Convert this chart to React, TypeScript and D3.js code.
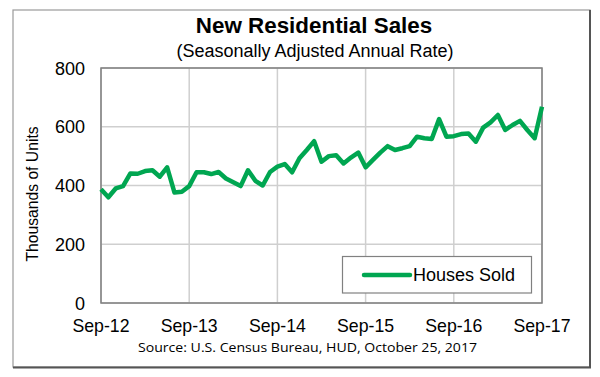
import React from "react";
import * as d3 from "d3";

const sales: number[] = [
  387, 360, 390, 398, 441, 440, 449, 452, 430, 462, 376, 379,
  398, 445, 445, 439, 446, 424, 411, 398, 452, 416, 400, 446,
  464, 473, 445, 493, 521, 551, 481, 500, 503, 475, 495, 512,
  462, 487, 512, 534, 521, 527, 534, 566, 561, 558, 626, 566,
  568, 575, 577, 549, 597, 615, 640, 589, 606, 620, 589, 561,
  668,
];
const xTickLabels = ["Sep-12", "Sep-13", "Sep-14", "Sep-15", "Sep-16", "Sep-17"];
const yTicks = [0, 200, 400, 600, 800];
const title = "New Residential Sales";
const subtitle = "(Seasonally Adjusted Annual Rate)";
const yLabel = "Thousands of Units";
const source = "Source:  U.S. Census Bureau, HUD, October 25, 2017";
const seriesName = "Houses Sold";

export default function App() {
  const W = 600, H = 377;
  const left = 101, right = 542, top = 68, bottom = 303;
  const x = d3.scaleLinear().domain([0, 60]).range([left, right]);
  const y = d3.scaleLinear().domain([0, 800]).range([bottom, top]);
  const line = d3.line<number>().x((_, i) => x(i)).y((d) => y(d));
  const green = "#00A651";
  const xTicks = xTickLabels.map((_, i) => i * 12);
  return (
    <svg width={W} height={H} style={{ position: "absolute", left: 0, top: 0, fontFamily: "Liberation Sans, Arial, sans-serif" }}>
      <rect x={0} y={0} width={W} height={H} fill="#fff" />
      <rect x={13} y={10} width={577} height={357} fill="#fff" stroke="#9a9a9a" strokeWidth={1.2} />
      <line x1={590} x2={590} y1={10} y2={368} stroke="#555" strokeWidth={2} />
      <line x1={13} x2={591} y1={367.5} y2={367.5} stroke="#555" strokeWidth={2} />
      <text x={314} y={33} textAnchor="middle" fontSize={22.4} fontWeight="bold" fill="#000">{title}</text>
      <text x={315} y={57} textAnchor="middle" fontSize={18} fill="#000">{subtitle}</text>
      {yTicks.map((t) => (
        <line key={"gy" + t} x1={left} x2={right} y1={y(t)} y2={y(t)} stroke="#cfcfcf" strokeWidth={1.5} />
      ))}
      {xTicks.map((t) => (
        <line key={"gx" + t} x1={x(t)} x2={x(t)} y1={top} y2={bottom} stroke="#cfcfcf" strokeWidth={1.5} />
      ))}
      <rect x={left} y={top} width={right - left} height={bottom - top} fill="none" stroke="#808080" strokeWidth={1.5} />
      {yTicks.map((t) => (
        <text key={"ty" + t} x={85} y={y(t) + 6.5} textAnchor="end" fontSize={18} fill="#000">{t}</text>
      ))}
      {xTicks.map((t, i) => (
        <text key={"tx" + t} x={x(t)} y={331.5} textAnchor="middle" fontSize={17.7} fill="#000">{xTickLabels[i]}</text>
      ))}
      <text transform={`translate(38,194) rotate(-90)`} textAnchor="middle" fontSize={15.7} fill="#000">{yLabel}</text>
      <path d={line(sales) || ""} fill="none" stroke={green} strokeWidth={4.5} strokeLinejoin="round" />
      <rect x={342.5} y={256.5} width={189} height={36.5} fill="#fff" stroke="#808080" strokeWidth={1.2} />
      <line x1={364} x2={410} y1={275} y2={275} stroke={green} strokeWidth={4.5} strokeLinecap="round" />
      <text x={413} y={281} fontSize={18} fill="#000">{seriesName}</text>
      <text x={307.5} y={352} textAnchor="middle" fontSize={13.5} fontFamily="Open Sans, sans-serif" fill="#000" textLength={339} lengthAdjust="spacingAndGlyphs">{source}</text>
    </svg>
  );
}
